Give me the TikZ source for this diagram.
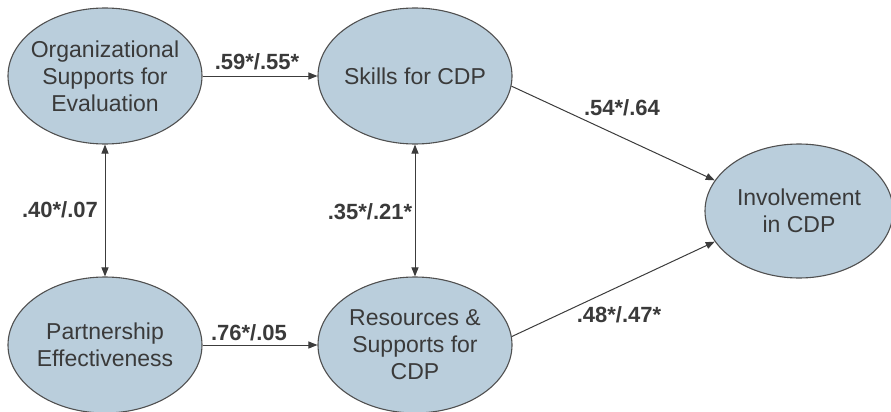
\documentclass[tikz,border=0pt]{standalone}
\usepackage{fontspec}
\setmainfont{Liberation Sans}
\usetikzlibrary{shapes.geometric,arrows.meta}
\definecolor{ellfill}{HTML}{BACEDC}
\definecolor{ellline}{HTML}{505050}
\definecolor{txtcol}{HTML}{3A3A3A}
\definecolor{arrcol}{HTML}{3C3C3C}
\begin{document}
\begin{tikzpicture}[x=1pt,y=-1pt,
  ell/.style={ellipse, draw=ellline, line width=1.1pt, fill=ellfill,
    minimum width=194pt, minimum height=136pt, inner sep=0pt},
  ntxt/.style={text=txtcol, align=center, inner sep=0pt,
    font=\fontsize{23}{27}\selectfont},
  lbl/.style={text=txtcol, inner sep=0pt, font=\fontsize{22}{26}\selectfont\bfseries},
  arr/.style={draw=arrcol, line width=1pt, -{Triangle[length=9pt,width=7pt]}},
  darr/.style={draw=arrcol, line width=1pt, {Triangle[length=9pt,width=7pt]}-{Triangle[length=9pt,width=7pt]}}
]
\useasboundingbox (0,0) rectangle (891,412);
\node[ell, label={[ntxt]center:Organizational\\Supports for\\Evaluation}] (org) at (105,76) {};
\node[ell, label={[ntxt]center:Skills for CDP}] (skills) at (415,76) {};
\node[ell, label={[ntxt]center:Partnership\\Effectiveness}] (part) at (105,345) {};
\node[ell, label={[ntxt]center:Resources \&\\Supports for\\CDP}] (res) at (415,345) {};
\node[ell, minimum width=188pt, minimum height=134pt, label={[ntxt]center:Involvement\\in CDP}] (inv) at (799,211) {};

\draw[arr] (org.east) -- (skills.west);
\draw[arr] (part.east) -- (res.west);
\draw[darr] (org.south) -- (part.north);
\draw[darr] (skills.south) -- (res.north);
\draw[arr] (skills.-6) -- (inv.160);
\draw[arr] (res.5) -- (inv.200);

\node[lbl] (l1) at (257,62) {.59*/.55*};
\node[lbl] (l2) at (249,333) {.76*/.05};
\node[lbl] (l3) at (60,210) {.40*/.07};
\node[lbl] (l4) at (370,212) {.35*/.21*};
\node[lbl] (l5) at (622,108) {.54*/.64};
\node[lbl] (l6) at (619,315) {.48*/.47*};
\end{tikzpicture}
\end{document}
